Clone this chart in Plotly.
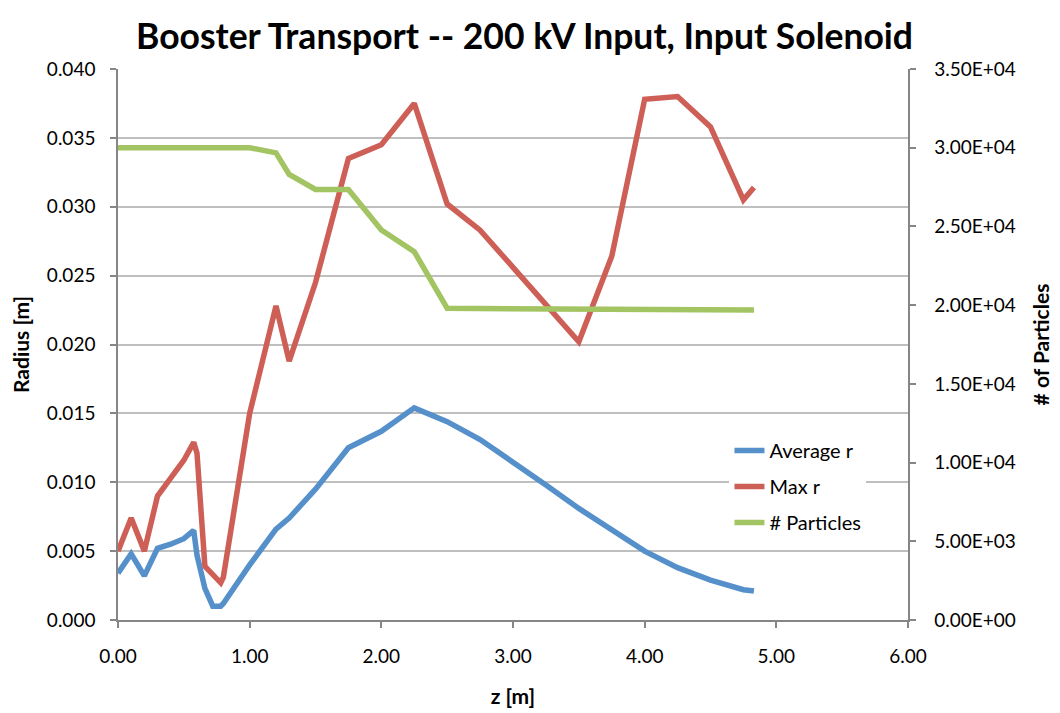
import plotly.graph_objects as go

z = [0.0, 0.1, 0.2, 0.3, 0.4, 0.5, 0.575, 0.6, 0.66, 0.72, 0.78, 0.8, 1.0, 1.2, 1.3, 1.5,
     1.75, 2.0, 2.25, 2.5, 2.75, 3.0, 3.25, 3.5, 3.75, 4.0, 4.25, 4.5, 4.75, 4.83]

avg_r = [0.0034, 0.0048, 0.0032, 0.0052, 0.0055, 0.0059, 0.0065, 0.0047, 0.0023, 0.0010,
         0.0010, 0.0012, 0.0040, 0.0066, 0.0074, 0.0095, 0.0125, 0.0137, 0.0154, 0.0144,
         0.0131, 0.0115, 0.0098, 0.0081, 0.0065, 0.0050, 0.0038, 0.0029, 0.0022, 0.0021]

max_r = [0.0050, 0.0074, 0.0050, 0.0090, 0.0103, 0.0116, 0.0129, 0.0121, 0.0039, 0.0033,
         0.0027, 0.0031, 0.0150, 0.0228, 0.0188, 0.0245, 0.0335, 0.0345, 0.0375, 0.0302,
         0.0283, 0.0256, 0.0229, 0.0202, 0.0264, 0.0378, 0.0380, 0.0358, 0.0305, 0.0314]

n_particles = [30000, 30000, 30000, 30000, 30000, 30000, 30000, 30000, 30000, 30000,
               30000, 30000, 30000, 29670, 28300, 27350, 27350, 24770, 23400, 19800,
               19790, 19780, 19780, 19770, 19770, 19760, 19750, 19740, 19700, 19690]

right_tickvals = [0, 5000, 10000, 15000, 20000, 25000, 30000, 35000]
right_ticktext = ["0.00E+00", "5.00E+03", "1.00E+04", "1.50E+04", "2.00E+04",
                  "2.50E+04", "3.00E+04", "3.50E+04"]

FONT = "Lato"
BLUE = "#5590CB"
RED = "#CD5F57"
GREEN = "#A3C462"
AXIS = "#868686"
GRID = "#BFBFBF"
PAD = "\u00a0\u00a0\u00a0"

fig = go.Figure()
fig.add_trace(go.Scatter(x=z, y=avg_r, mode="lines", name="Average r",
                         line=dict(color=BLUE, width=5.5), legendgroup="a"))
fig.add_trace(go.Scatter(x=z, y=max_r, mode="lines", name="Max r",
                         line=dict(color=RED, width=5.5), legendgroup="b"))
fig.add_trace(go.Scatter(x=z, y=n_particles, mode="lines", name="# Particles",
                         line=dict(color=GREEN, width=5.5), yaxis="y2", legendgroup="c"))

fig.update_layout(
    width=1052, height=705,
    paper_bgcolor="white", plot_bgcolor="white",
    margin=dict(l=110, r=152, t=61, b=93),
    font=dict(family=FONT, size=19, color="black"),
    title=dict(text="<b>Booster Transport -- 200 kV Input, Input Solenoid</b>",
               x=0.491, xanchor="center", y=0.96, yanchor="middle",
               font=dict(family=FONT, size=35.5, color="black")),
    xaxis=dict(range=[0, 6], dtick=1, tickformat=".2f", showgrid=False, zeroline=False,
               automargin=False,
               showline=True, linecolor=AXIS, linewidth=1.5, ticks="outside",
               tickcolor=AXIS, ticklen=6, tickwidth=1.5, ticklabelstandoff=12,
               title=dict(text="<b>z [m]</b>", font=dict(size=21), standoff=24)),
    yaxis=dict(range=[0, 0.04], dtick=0.005, tickformat=".3f", showgrid=True,
               gridcolor=GRID, gridwidth=1.5, zeroline=False, automargin=False,
               showline=True, linecolor=AXIS, linewidth=1.5, ticks="outside",
               tickcolor=AXIS, ticklen=6, tickwidth=1.5, ticklabelstandoff=11,
               title=dict(text="<b>Radius [m]</b>", font=dict(size=21), standoff=12)),
    yaxis2=dict(range=[0, 35000], overlaying="y", side="right",
                tickvals=right_tickvals, ticktext=[PAD + t for t in right_ticktext],
                showgrid=False, automargin=False,
                zeroline=False, showline=True, linecolor=AXIS, linewidth=1.5,
                ticks="outside", tickcolor=AXIS, ticklen=6, tickwidth=1.5,
                title=dict(text="<b># of Particles</b>", font=dict(size=21), standoff=20)),
    legend=dict(x=0.774, y=0.343, xanchor="left", yanchor="top",
                bgcolor="white", borderwidth=0, tracegroupgap=7,
                font=dict(size=20), itemwidth=30),
    showlegend=True,
)

fig.write_html("out.html")
